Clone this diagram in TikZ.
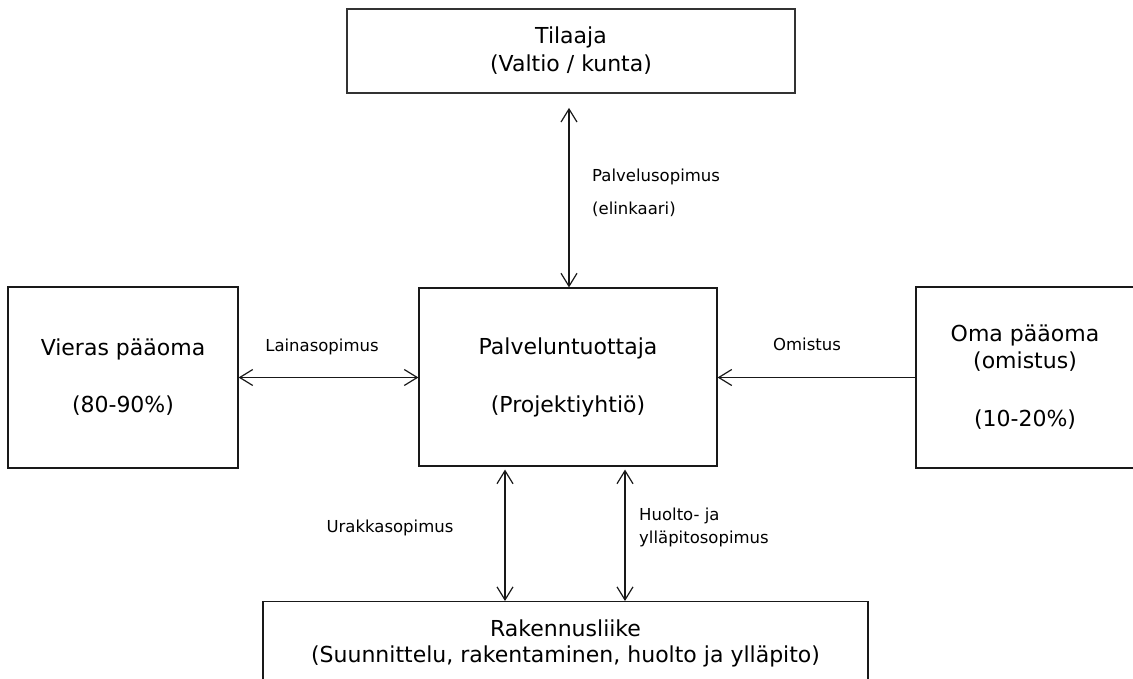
\documentclass[tikz,border=0pt]{standalone}
\usepackage{fontspec}
\setmainfont{DejaVu Sans}
\usetikzlibrary{arrows.meta}
\begin{document}
\begin{tikzpicture}[x=1pt,y=-1pt,
  box/.style={draw=black!90, line width=1.2pt, inner sep=0pt, align=center,
    font=\fontsize{22}{28}\selectfont},
  tag/.style={inner sep=0pt, font=\fontsize{16.5}{20}\selectfont},
  link/.style={line width=1.2pt, draw=black!90},
  barb/.tip={Straight Barb[length=13pt,width=16pt]},
  both/.style={link, barb-barb},
  one/.style={link, -barb},
]
% frame of the page
\useasboundingbox (0,0) rectangle (1133,679);
\fill[white] (0,0) rectangle (1133,679);
\clip (0,0) rectangle (1133,679);

% boxes
\node[box, draw=black!80, line width=1.8pt, minimum width=448pt, minimum height=84pt]
  (tilaaja) at (571,51) {Tilaaja\\(Valtio / kunta)};
\node[box, font=\fontsize{22}{58}\selectfont, minimum width=298pt, minimum height=178pt]
  (tuottaja) at (568,377) {Palveluntuottaja\\(Projektiyhtiö)};
\node[box, font=\fontsize{22}{57}\selectfont, minimum width=230pt, minimum height=181pt]
  (vieras) at (123,377.5) {Vieras pääoma\\(80-90\%)};
\node[box, font=\fontsize{22}{27}\selectfont, minimum width=218pt, minimum height=181pt]
  (oma) at (1025,377.5) {Oma pääoma\\(omistus)\\[31pt](10-20\%)};
\node[box, font=\fontsize{22}{26}\selectfont, anchor=north, minimum width=605pt, minimum height=83pt]
  (rakennus) at (565.5,601) {Rakennusliike\\(Suunnittelu, rakentaminen, huolto ja ylläpito)};

% contracts between the parties
\draw[both, shorten <=14pt] ([xshift=-2pt]tilaaja.south) -- ([xshift=-2pt]tilaaja.south |- tuottaja.north);
\draw[both] (vieras.east) -- (vieras.east -| tuottaja.west);
\draw[one] (oma.west) -- (oma.west -| tuottaja.east);
\draw[both, shorten <=3pt] ([xshift=-63pt]tuottaja.south) -- ([xshift=-63pt]tuottaja.south |- rakennus.north);
\draw[both, shorten <=3pt] ([xshift=57pt]tuottaja.south) -- ([xshift=57pt]tuottaja.south |- rakennus.north);

% contract labels
\node[tag, anchor=west, align=left, font=\fontsize{16.5}{33}\selectfont]
  (palvelusop) at (592,193.3) {Palvelusopimus\\(elinkaari)};
\node[tag, anchor=base] (laina) at (322,351) {Lainasopimus};
\node[tag, anchor=base] (omistus) at (807,350) {Omistus};
\node[tag, anchor=base] (urakka) at (390,532) {Urakkasopimus};
\node[tag, anchor=west, align=left, font=\fontsize{16.5}{23}\selectfont]
  (huolto) at (639,527) {Huolto- ja\\ylläpitosopimus};
\end{tikzpicture}
\end{document}
